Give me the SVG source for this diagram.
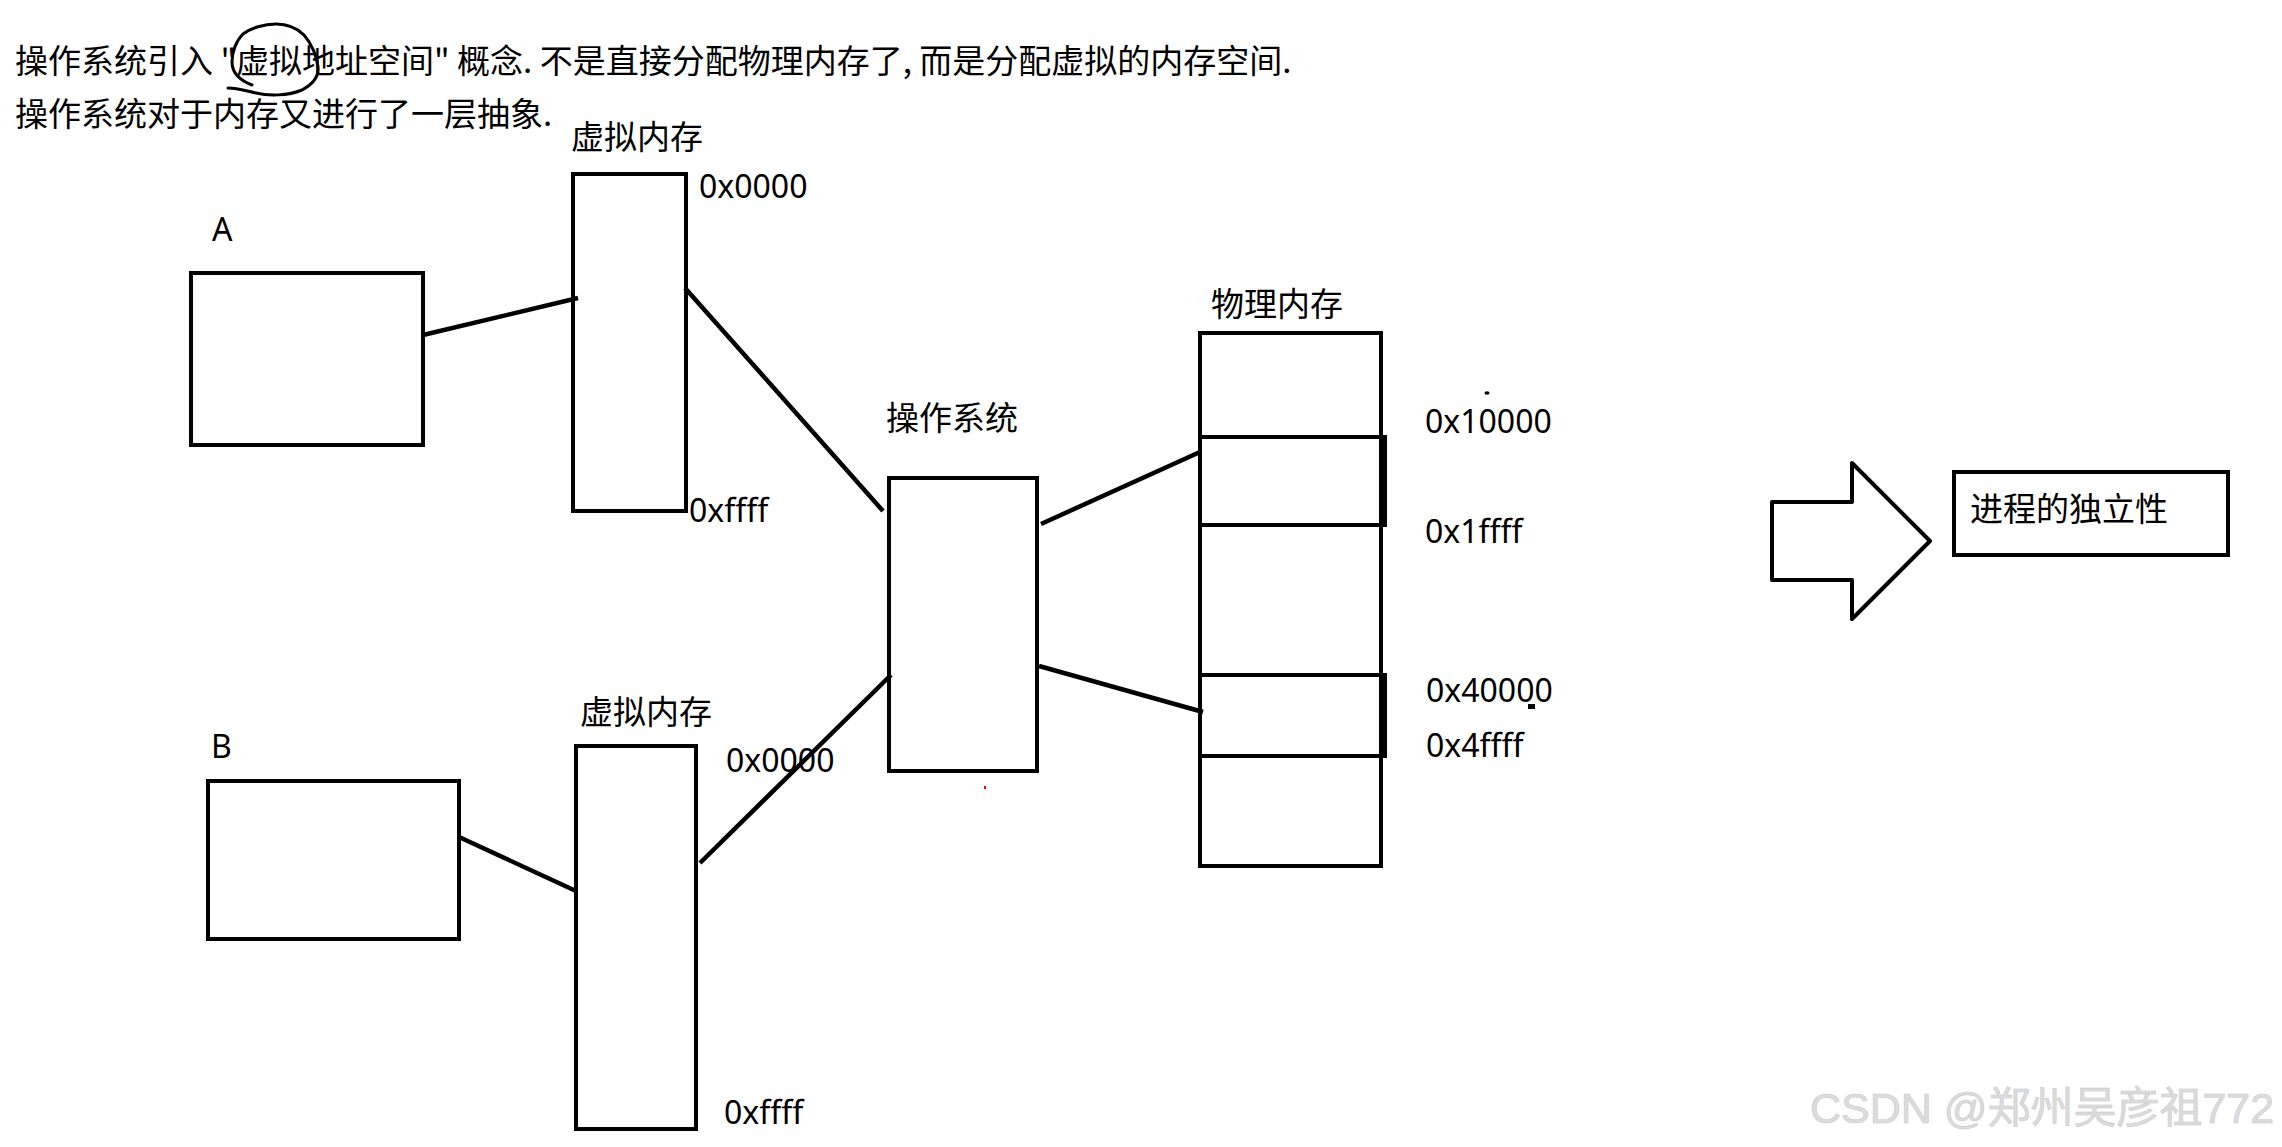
<svg xmlns="http://www.w3.org/2000/svg" width="2282" height="1147" viewBox="0 0 2282 1147">
<style>
.box{fill:none;stroke:#000;stroke-width:4}
.ln{fill:none;stroke:#000;stroke-width:4.5;stroke-linecap:butt}
.cjk{font-family:"Noto Sans CJK SC","Noto Sans",sans-serif;font-size:33px;fill:#000}
.lat{font-family:"Noto Sans","Noto Sans CJK SC",sans-serif;font-size:32px;fill:#000}
.wm{font-family:"Liberation Sans","Noto Sans CJK SC",sans-serif;font-size:43px;fill:#dcdcdc;stroke:#c9c9c9;stroke-width:0.6}
</style>
<rect width="2282" height="1147" fill="#fff"/>
<g id="title">
<text class="cjk" x="15" y="73">操作系统引入 "虚拟地址空间" 概念. 不是直接分配物理内存了, 而是分配虚拟的内存空间.</text>
<text class="cjk" x="15" y="126">操作系统对于内存又进行了一层抽象.</text>
<path d="M228,88 C238,88 246,91 256,93 C268,96 288,96 302,90 C313,84 319,76 318,67 C317,57 312,44 304,35 C296,27 286,24 276,24 C264,24 251,28 243,34 C236,41 232,52 232,62 C232,73 239,80 252,85" fill="none" stroke="#000" stroke-width="3" stroke-linecap="round"/>
</g>
<g id="procA">
<text class="lat" x="212" y="241">A</text>
<rect class="box" x="191" y="273" width="232" height="172"/>
</g>
<g id="vmA">
<text class="cjk" x="571" y="149">虚拟内存</text>
<rect class="box" x="573" y="174" width="113" height="337"/>
<text class="lat" x="699" y="198">0x0000</text>
<text class="lat" x="689" y="522">0xffff</text>
</g>
<g id="procB">
<text class="lat" x="211" y="758">B</text>
<rect class="box" x="208" y="781" width="251" height="158"/>
</g>
<g id="vmB">
<text class="cjk" x="580" y="724">虚拟内存</text>
<rect class="box" x="576" y="746" width="120" height="383"/>
<text class="lat" x="726" y="772">0x0000</text>
<text class="lat" x="724" y="1124">0xffff</text>
</g>
<g id="os">
<text class="cjk" x="886" y="430">操作系统</text>
<rect class="box" x="889" y="478" width="148" height="293"/>
</g>
<g id="phys">
<text class="cjk" x="1211" y="316">物理内存</text>
<rect class="box" x="1200" y="333" width="181" height="533"/>
<rect class="box" x="1200" y="437" width="185" height="88"/>
<rect class="box" x="1200" y="675" width="185" height="81"/>
<line x1="1383" y1="437" x2="1383" y2="525" stroke="#000" stroke-width="4"/>
<line x1="1383" y1="675" x2="1383" y2="756" stroke="#000" stroke-width="4"/>
<text class="lat" x="1425" y="433">0x10000</text>
<text class="lat" x="1425" y="543">0x1ffff</text>
<text class="lat" x="1426" y="702">0x40000</text>
<text class="lat" x="1426" y="757">0x4ffff</text>
<ellipse cx="1487" cy="393" rx="2.5" ry="1.8" fill="#000"/>
<rect x="1528" y="704" width="7" height="5" fill="#000"/>
</g>
<g id="arrow">
<polygon points="1772,502 1852,502 1852,463 1930,541 1852,619 1852,580 1772,580" fill="#fff" stroke="#000" stroke-width="4" stroke-linejoin="round"/>
</g>
<g id="result">
<rect class="box" x="1954" y="472" width="274" height="83"/>
<text class="cjk" x="1970" y="521">进程的独立性</text>
</g>
<g id="connectors">
<line class="ln" x1="423" y1="335" x2="578" y2="298"/>
<line class="ln" x1="685" y1="288" x2="883" y2="511"/>
<line class="ln" x1="459" y1="837" x2="576" y2="891"/>
<line class="ln" x1="700" y1="863" x2="891" y2="675"/>
<line class="ln" x1="1041" y1="524" x2="1200" y2="452"/>
<line class="ln" x1="1039" y1="666" x2="1203" y2="712"/>
</g>
<rect x="984" y="786" width="2" height="3" fill="#e00"/>
<text class="wm" x="1810" y="1123">CSDN @郑州吴彦祖772</text>
</svg>
